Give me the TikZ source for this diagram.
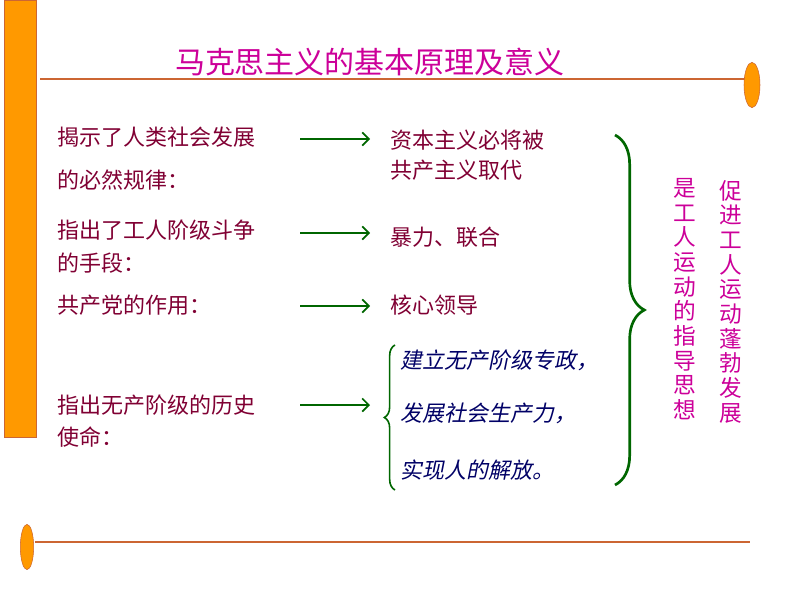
\documentclass[tikz,border=0pt]{standalone}
\usepackage{fontspec}
\setmainfont{Noto Sans CJK SC}
\newfontfamily\cjkit{Noto Sans CJK SC}[FakeSlant=0.2]
\usetikzlibrary{decorations.pathreplacing,arrows.meta,shapes.geometric}
\definecolor{org}{RGB}{255,153,0}
\definecolor{lin}{RGB}{204,102,51}
\definecolor{mag}{RGB}{204,0,153}
\definecolor{mar}{RGB}{128,0,51}
\definecolor{nav}{RGB}{0,0,102}
\definecolor{grn}{RGB}{0,102,0}
\begin{document}
\begin{tikzpicture}[x=0.75pt,y=-0.75pt,
  lt/.style={anchor=west,inner sep=0,text=mar,font=\fontsize{16.5}{18}\selectfont},
  it/.style={anchor=west,inner sep=0,text=nav,font=\cjkit\fontsize{16.5}{18}\selectfont},
  vt/.style={inner sep=0,text=mag,font=\fontsize{17}{18.5}\selectfont,align=center},
  arr/.style={-{Straight Barb[length=5pt]},grn,line width=1.2pt},
  br/.style={grn,line width=2pt,decorate}]
\useasboundingbox (0,0) rectangle (794,596);
\fill[org,draw=lin,line width=0.5pt] (4,0) rectangle (36,437);
\draw[lin,line width=2pt] (40,79) -- (745,79);
\node[ellipse,draw=lin,fill=org,minimum width=12pt,minimum height=34pt,inner sep=0] (e1) at (752,85) {};
\draw[lin,line width=2pt] (35,542) -- (750,542);
\node[ellipse,draw=lin,fill=org,minimum width=10pt,minimum height=34pt,inner sep=0] (e2) at (27,547) {};
\node[inner sep=0,text=mag,font=\fontsize{22.5}{24}\selectfont] (title) at (370,62) {马克思主义的基本原理及意义};
\node[lt] (l1) at (57,137) {揭示了人类社会发展};
\node[lt] (l1b) at (57,180) {的必然规律：};
\node[lt] (l2) at (57,230) {指出了工人阶级斗争};
\node[lt] (l2b) at (57,263) {的手段：};
\node[lt] (l3) at (57,305) {共产党的作用：};
\node[lt] (l4) at (57,405) {指出无产阶级的历史};
\node[lt] (l4b) at (57,437) {使命：};
\node[lt] (m1) at (390,140) {资本主义必将被};
\node[lt] (m1b) at (390,170) {共产主义取代};
\node[lt] (m2) at (390,237) {暴力、联合};
\node[lt] (m3) at (390,305) {核心领导};
\node[it] (i1) at (400,360) {建立无产阶级专政，};
\node[it] (i2) at (400,413) {发展社会生产力，};
\node[it] (i3) at (400,470) {实现人的解放。};
\coordinate (a1s) at (300,139); \coordinate (a1e) at (370,139);
\coordinate (a2s) at (300,233); \coordinate (a2e) at (370,233);
\coordinate (a3s) at (300,306); \coordinate (a3e) at (370,306);
\coordinate (a4s) at (300,405); \coordinate (a4e) at (370,405);
\draw[arr] (a1s) -- (a1e);
\draw[arr] (a2s) -- (a2e);
\draw[arr] (a3s) -- (a3e);
\draw[arr] (a4s) -- (a4e);
\coordinate (b1) at (615,135); \coordinate (b2) at (615,485);
\draw[br,decoration={brace,amplitude=22pt}] (b1) -- (b2);
\coordinate (c1) at (395,490); \coordinate (c2) at (395,345);
\draw[br,line width=1.2pt,decoration={brace,amplitude=8pt}] (c1) -- (c2);
\node[vt,anchor=north] (v1) at (685,178) {是\\工\\人\\运\\动\\的\\指\\导\\思\\想};
\node[vt,anchor=north] (v2) at (731,180) {促\\进\\工\\人\\运\\动\\蓬\\勃\\发\\展};
\end{tikzpicture}
\end{document}
